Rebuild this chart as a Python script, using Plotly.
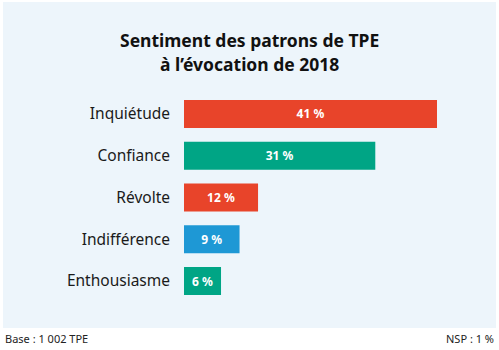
import plotly.graph_objects as go

categories = ["Inquiétude", "Confiance", "Révolte", "Indifférence", "Enthousiasme"]
values = [41, 31, 12, 9, 6]
value_labels = ["41 %", "31 %", "12 %", "9 %", "6 %"]
colors = ["#E8442A", "#00A585", "#E8442A", "#1E98D5", "#00A585"]
title_lines = ["Sentiment des patrons de TPE", "à l’évocation de 2018"]
footer_left = "Base : 1 002 TPE"
footer_right = "NSP : 1 %"

W, H = 499, 350
FONT = "Noto Sans"

fig = go.Figure()
fig.add_trace(go.Bar(
    x=values, y=categories, orientation="h",
    marker=dict(color=colors, line=dict(width=0)),
    width=0.67,
    text=["<b>" + t + "</b>" for t in value_labels],
    textposition="inside", insidetextanchor="middle",
    textfont=dict(color="white", size=12, family=FONT),
    hoverinfo="skip",
))

fig.update_layout(
    width=W, height=H,
    margin=dict(l=0, r=0, t=0, b=0),
    paper_bgcolor="white",
    plot_bgcolor="rgba(0,0,0,0)",
    showlegend=False,
    font=dict(family=FONT, color="#1a1a1a"),
    xaxis=dict(domain=[184 / W, 437 / W], range=[0, 41], visible=False,
               fixedrange=True),
    yaxis=dict(domain=[(H - 301.9) / H, (H - 93.1) / H],
               categoryorder="array", categoryarray=categories,
               autorange="reversed", showgrid=False, zeroline=False,
               showline=False, ticks="", ticklabelstandoff=13,
               tickfont=dict(size=15.5, family=FONT, color="#1a1a1a")),
    shapes=[dict(type="rect", xref="paper", yref="paper",
                 x0=3 / W, x1=496 / W, y0=(H - 328) / H, y1=(H - 2) / H,
                 fillcolor="#EDF5FB", line=dict(width=0), layer="below")],
    annotations=[
        dict(text="<b>" + title_lines[0] + "</b>", xref="paper", yref="paper",
             x=0.5, y=(H - 40) / H, showarrow=False, xanchor="center",
             yanchor="middle", font=dict(size=17.5, family=FONT, color="#111")),
        dict(text="<b>" + title_lines[1] + "</b>", xref="paper", yref="paper",
             x=0.5, y=(H - 64) / H, showarrow=False, xanchor="center",
             yanchor="middle", font=dict(size=17.5, family=FONT, color="#111")),
        dict(text=footer_left, xref="paper", yref="paper",
             x=3 / W, y=(H - 338) / H, showarrow=False, xanchor="left",
             yanchor="middle", font=dict(size=11, family=FONT, color="#222")),
        dict(text=footer_right, xref="paper", yref="paper",
             x=496 / W, y=(H - 338) / H, showarrow=False, xanchor="right",
             yanchor="middle", font=dict(size=11, family=FONT, color="#222")),
    ],
)

fig.write_html("out.html")
